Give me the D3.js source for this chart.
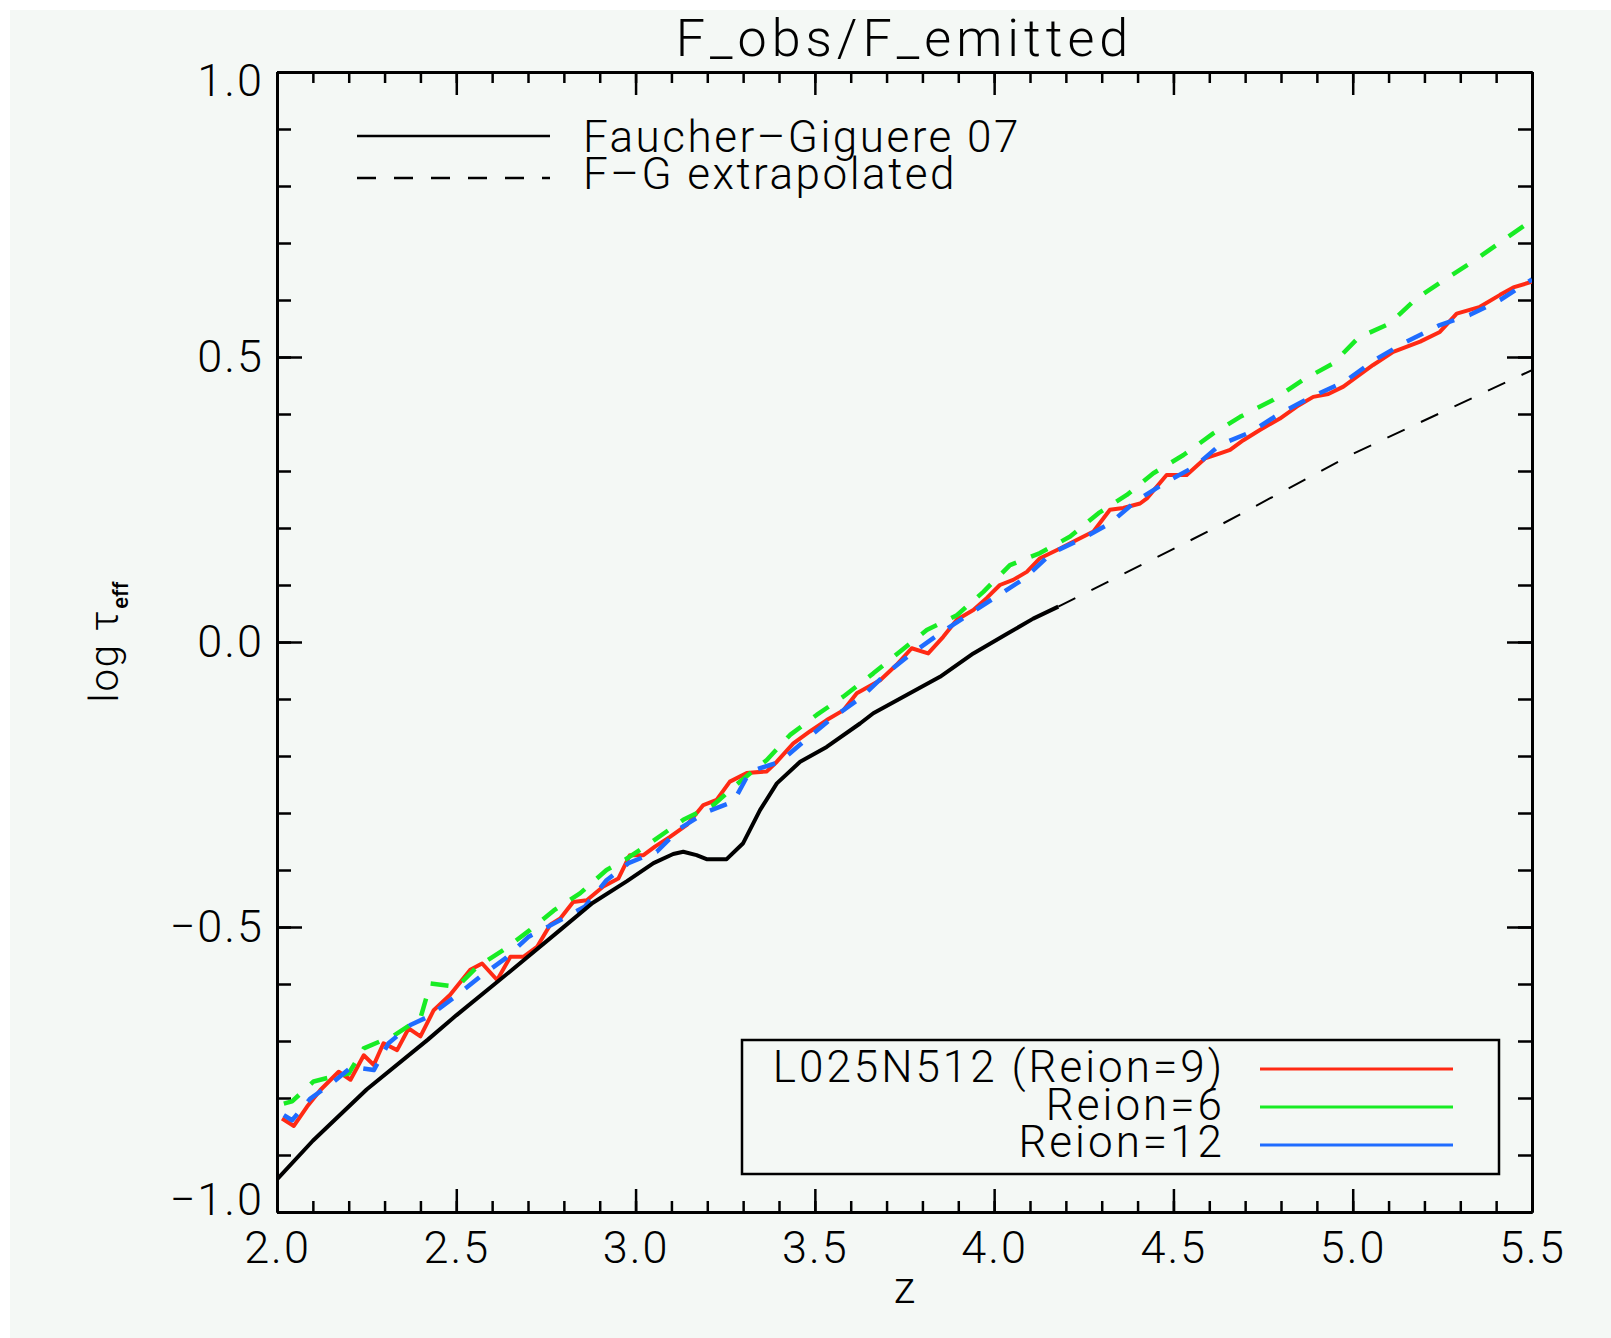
<!DOCTYPE html>
<html>
<head>
<meta charset="utf-8">
<script src="https://cdn.jsdelivr.net/npm/d3@7"></script>
<style>
  body { margin: 0; background: #ffffff; }
  text { font-family: Roboto, "DejaVu Sans", sans-serif; font-weight: 300; fill: #000; }
</style>
</head>
<body>
<div class="chart"></div>
<script>
// Faucher-Giguere 07 (measured) and its extrapolation
let zFG = [2.0, 2.1, 2.25, 2.42, 2.5, 2.65, 2.79, 2.88, 2.975, 3.05, 3.105, 3.133, 3.17, 3.198, 3.254, 3.30, 3.347, 3.394, 3.459, 3.533, 3.626, 3.663, 3.756, 3.849, 3.942, 4.035, 4.109, 4.179];
let tauFG = [-0.943, -0.875, -0.785, -0.698, -0.655, -0.578, -0.505, -0.458, -0.420, -0.388, -0.372, -0.368, -0.374, -0.381, -0.381, -0.353, -0.295, -0.248, -0.210, -0.184, -0.143, -0.125, -0.093, -0.061, -0.020, 0.014, 0.041, 0.062];
let zExt = [4.179, 4.6, 5.0, 5.5];
let tauExt = [0.062, 0.195, 0.330, 0.477];

// L025N512 Reion=9 (red)
let zR9 = [2.014, 2.047, 2.084, 2.121, 2.172, 2.205, 2.242, 2.270, 2.297, 2.335, 2.367, 2.400, 2.437, 2.483, 2.539, 2.572, 2.614, 2.651, 2.688, 2.725, 2.762, 2.790, 2.826, 2.864, 2.910, 2.952, 2.984, 3.022, 3.054, 3.096, 3.143, 3.189, 3.226, 3.263, 3.310, 3.366, 3.394, 3.440, 3.486, 3.533, 3.579, 3.617, 3.682, 3.728, 3.770, 3.816, 3.858, 3.896, 3.942, 3.979, 4.016, 4.053, 4.091, 4.128, 4.184, 4.230, 4.277, 4.323, 4.360, 4.407, 4.426, 4.481, 4.537, 4.588, 4.630, 4.658, 4.695, 4.741, 4.797, 4.844, 4.890, 4.932, 4.974, 5.011, 5.057, 5.113, 5.188, 5.243, 5.290, 5.355, 5.411, 5.448, 5.5];
let tauR9 = [-0.836, -0.849, -0.815, -0.786, -0.754, -0.768, -0.725, -0.742, -0.704, -0.716, -0.678, -0.692, -0.646, -0.619, -0.575, -0.564, -0.593, -0.552, -0.552, -0.535, -0.496, -0.485, -0.456, -0.453, -0.429, -0.415, -0.374, -0.374, -0.359, -0.342, -0.321, -0.286, -0.277, -0.245, -0.230, -0.227, -0.210, -0.178, -0.157, -0.137, -0.120, -0.090, -0.067, -0.040, -0.011, -0.020, 0.009, 0.039, 0.056, 0.077, 0.100, 0.109, 0.123, 0.147, 0.164, 0.179, 0.194, 0.232, 0.235, 0.243, 0.252, 0.293, 0.293, 0.322, 0.331, 0.337, 0.354, 0.372, 0.392, 0.413, 0.430, 0.435, 0.448, 0.465, 0.486, 0.509, 0.527, 0.544, 0.576, 0.588, 0.609, 0.622, 0.632];

// Reion=6 (green)
let zR6 = [2.019, 2.042, 2.102, 2.153, 2.200, 2.242, 2.330, 2.400, 2.428, 2.502, 2.558, 2.632, 2.706, 2.772, 2.845, 2.919, 2.971, 3.049, 3.133, 3.217, 3.291, 3.366, 3.431, 3.505, 3.579, 3.663, 3.737, 3.812, 3.896, 3.970, 4.044, 4.128, 4.212, 4.291, 4.370, 4.444, 4.528, 4.611, 4.686, 4.779, 4.862, 4.946, 5.016, 5.104, 5.178, 5.262, 5.341, 5.420, 5.5];
let tauR6 = [-0.810, -0.806, -0.771, -0.763, -0.757, -0.713, -0.689, -0.660, -0.599, -0.605, -0.570, -0.540, -0.505, -0.471, -0.441, -0.400, -0.382, -0.349, -0.312, -0.286, -0.245, -0.207, -0.163, -0.128, -0.096, -0.055, -0.017, 0.021, 0.047, 0.088, 0.135, 0.156, 0.185, 0.226, 0.258, 0.296, 0.328, 0.366, 0.395, 0.425, 0.460, 0.489, 0.534, 0.559, 0.603, 0.638, 0.670, 0.705, 0.740];

// Reion=12 (blue)
let zR12 = [2.019, 2.042, 2.093, 2.153, 2.209, 2.270, 2.311, 2.372, 2.423, 2.497, 2.567, 2.637, 2.702, 2.781, 2.859, 2.919, 2.980, 3.059, 3.124, 3.198, 3.273, 3.319, 3.403, 3.468, 3.547, 3.626, 3.700, 3.770, 3.849, 3.933, 4.007, 4.086, 4.160, 4.239, 4.323, 4.397, 4.481, 4.560, 4.630, 4.718, 4.797, 4.885, 4.978, 5.062, 5.150, 5.243, 5.327, 5.411, 5.5];
let tauR12 = [-0.830, -0.839, -0.801, -0.774, -0.745, -0.751, -0.704, -0.672, -0.657, -0.622, -0.587, -0.555, -0.517, -0.491, -0.464, -0.418, -0.388, -0.368, -0.327, -0.298, -0.280, -0.227, -0.210, -0.175, -0.134, -0.099, -0.055, -0.020, 0.015, 0.050, 0.080, 0.112, 0.156, 0.179, 0.208, 0.248, 0.281, 0.308, 0.346, 0.369, 0.401, 0.430, 0.457, 0.495, 0.527, 0.556, 0.574, 0.600, 0.636];

// tick values
let xMajor = [2.0, 2.5, 3.0, 3.5, 4.0, 4.5, 5.0, 5.5];
let xMinor = d3.range(20, 56, 1).map(d => d / 10);
let yMajor = [-1.0, -0.5, 0.0, 0.5, 1.0];
let yMinor = d3.range(-10, 11, 1).map(d => d / 10);

let simNames = ['L025N512 (Reion=9)', 'Reion=6', 'Reion=12'];
let simColors = ['#ff2a14', '#18ec24', '#1f6cff'];
let obsNames = ['Faucher\u2013Giguere 07', 'F\u2013G extrapolated'];

let W = 1611, H = 1338;
let margin = { top: 72, right: 79, bottom: 126, left: 277 };
let width = W - margin.left - margin.right;
let height = H - margin.top - margin.bottom;

let svg = d3.select('.chart').append('svg')
    .attr('width', W)
    .attr('height', H);

// plot background (white strip on top/left like the original image)
svg.append('rect')
    .attr('x', 10).attr('y', 10)
    .attr('width', W - 10).attr('height', H - 10)
    .style('fill', '#f4f8f5');

let x = d3.scaleLinear().domain([2.0, 5.5]).range([0, width]);
let y = d3.scaleLinear().domain([-1.0, 1.0]).range([height, 0]);

let g = svg.append('g')
    .attr('transform', 'translate(' + margin.left + ',' + margin.top + ')');

svg.append('clipPath').attr('id', 'clip')
    .append('rect').attr('width', width).attr('height', height);

// Title and axis labels
svg.append('text')
    .attr('x', margin.left + width / 2)
    .attr('y', 56)
    .style('text-anchor', 'middle')
    .style('font-size', '52px')
    .style('letter-spacing', '5px')
    .text('F_obs/F_emitted');

svg.append('text')
    .attr('x', margin.left + width / 2)
    .attr('y', 1303)
    .style('text-anchor', 'middle')
    .style('font-size', '44px')
    .text('z');

let ylab = svg.append('text')
    .attr('transform', 'translate(118,642) rotate(-90)')
    .style('text-anchor', 'middle')
    .style('font-size', '40px')
    .style('letter-spacing', '2px');
ylab.append('tspan').text('log \u03c4');
ylab.append('tspan').attr('dy', 10).style('font-size', '22px').style('font-weight', 500).style('letter-spacing', '0px').text('eff');

// Axes: ticks on all four sides pointing inward
function styleAxis(sel) {
    sel.select('.domain').style('stroke', '#000').style('stroke-width', 3);
    sel.selectAll('.tick line').style('stroke', '#000').style('stroke-width', 2.5);
    sel.selectAll('text').style('font-size', '45px').style('letter-spacing', '2px')
        .style('font-family', 'Roboto, "DejaVu Sans", sans-serif').style('fill', '#000');
}

let fmt = d3.format('.1f');

g.append('g').attr('transform', `translate(0,${height})`)
    .call(d3.axisBottom(x).tickValues(xMinor).tickSize(-11).tickSizeOuter(0).tickFormat(''))
    .call(styleAxis);
g.append('g').attr('transform', `translate(0,${height})`)
    .call(d3.axisBottom(x).tickValues(xMajor).tickSize(-23).tickSizeOuter(0).tickPadding(19).tickFormat(fmt))
    .call(styleAxis);
g.append('g')
    .call(d3.axisTop(x).tickValues(xMinor).tickSize(-11).tickSizeOuter(0).tickFormat(''))
    .call(styleAxis);
g.append('g')
    .call(d3.axisTop(x).tickValues(xMajor).tickSize(-23).tickSizeOuter(0).tickFormat(''))
    .call(styleAxis);

g.append('g')
    .call(d3.axisLeft(y).tickValues(yMinor).tickSize(-14).tickSizeOuter(0).tickFormat(''))
    .call(styleAxis);
let yAx = g.append('g')
    .call(d3.axisLeft(y).tickValues(yMajor).tickSize(-25).tickSizeOuter(0).tickPadding(13).tickFormat(fmt))
    .call(styleAxis);
// the end labels sit inside the axis range
yAx.selectAll('.tick text').filter(d => d === 1.0).attr('dy', '0.52em');
yAx.selectAll('.tick text').filter(d => d === -1.0).attr('dy', '0.06em');

g.append('g').attr('transform', `translate(${width},0)`)
    .call(d3.axisRight(y).tickValues(yMinor).tickSize(-14).tickSizeOuter(0).tickFormat(''))
    .call(styleAxis);
g.append('g').attr('transform', `translate(${width},0)`)
    .call(d3.axisRight(y).tickValues(yMajor).tickSize(-25).tickSizeOuter(0).tickFormat(''))
    .call(styleAxis);

// Curves
let line = d3.line().x(d => x(d[0])).y(d => y(d[1]));
let curves = g.append('g').attr('clip-path', 'url(#clip)');

function drawCurve(zs, vals, color, w, dash) {
    curves.append('path')
        .datum(d3.zip(zs, vals))
        .attr('d', line)
        .style('fill', 'none')
        .style('stroke', color)
        .style('stroke-width', w)
        .style('stroke-linejoin', 'round')
        .style('stroke-dasharray', dash);
}

drawCurve(zR9, tauR9, simColors[0], 4, null);
drawCurve(zR6, tauR6, simColors[1], 4.5, '18,16');
drawCurve(zR12, tauR12, simColors[2], 4.5, '18,16');
drawCurve(zExt, tauExt, '#000', 2, '19,18');
drawCurve(zFG, tauFG, '#000', 4, null);

// Top-left legend (observations)
let obsLeg = svg.append('g');
obsLeg.append('line').attr('x1', 357).attr('x2', 550).attr('y1', 136).attr('y2', 136)
    .style('stroke', '#000').style('stroke-width', 2.5);
obsLeg.append('line').attr('x1', 357).attr('x2', 550).attr('y1', 178).attr('y2', 178)
    .style('stroke', '#000').style('stroke-width', 2.5).style('stroke-dasharray', '19,18');
obsLeg.selectAll('text').data(obsNames).enter().append('text')
    .attr('x', 583)
    .attr('y', (d, i) => 152 + i * 37)
    .style('font-size', '44px')
    .style('letter-spacing', '2.5px')
    .text(d => d);

// Bottom-right legend (simulations)
let simLeg = svg.append('g');
simLeg.append('rect')
    .attr('x', 742).attr('y', 1040).attr('width', 757).attr('height', 134)
    .style('fill', 'none').style('stroke', '#000').style('stroke-width', 2.5);
simLeg.selectAll('line').data(simColors).enter().append('line')
    .attr('x1', 1260).attr('x2', 1453)
    .attr('y1', (d, i) => 1069 + i * 38).attr('y2', (d, i) => 1069 + i * 38)
    .style('stroke', d => d).style('stroke-width', 3);
simLeg.selectAll('text').data(simNames).enter().append('text')
    .attr('x', 1225)
    .attr('y', (d, i) => 1082 + i * 37.5)
    .style('text-anchor', 'end')
    .style('font-size', '44px')
    .style('letter-spacing', '3px')
    .text(d => d);
</script>
</body>
</html>
